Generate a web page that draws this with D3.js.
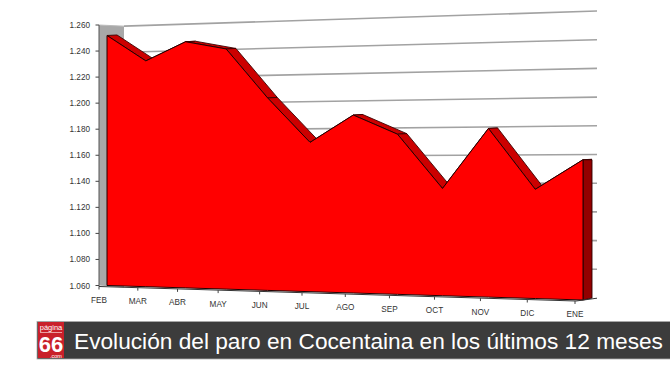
<!DOCTYPE html>
<html><head><meta charset="utf-8">
<script src="https://cdnjs.cloudflare.com/ajax/libs/d3/7.8.5/d3.min.js"></script>
<style>html,body{margin:0;padding:0;background:#fff}svg{display:block}text{font-family:"Liberation Sans",Arial,sans-serif}</style>
</head><body><svg id="c" width="670" height="377"></svg>
<script>
const categories=["FEB","MAR","ABR","MAY","JUN","JUL","AGO","SEP","OCT","NOV","DIC","ENE"];
const values=[1252,1232,1246,1240,1203,1170,1190,1176,1137,1180,1137,1158];
const yTicks=[1060,1080,1100,1120,1140,1160,1180,1200,1220,1240,1260];
const yTickLabels=["1.060","1.080","1.100","1.120","1.140","1.160","1.180","1.200","1.220","1.240","1.260"];
const title="Evolución del paro en Cocentaina en los últimos 12 meses";

const svg=d3.select("#c");
// Perspective of the pseudo-3D chart: month step widens to the right
const persp=i=>i*(1+0.0116*i);
const xFront=d3.scaleLinear().domain([persp(0),persp(11)]).range([107,583]);
const baseFront=d3.scaleLinear().domain([107,583]).range([285.5,300]);
const kFront=d3.scaleLinear().domain([99,597]).range([1.30,1.435]);
const yFront=(v,x)=>baseFront(x)-(v-1060)*kFront(x);
const baseBack=d3.scaleLinear().domain([124,597]).range([287.5,298]);
const yBack=(v,x)=>baseBack(x)-(v-1060)*kFront(x);
const yLeft=d3.scaleLinear().domain([1060,1260]).range([285.5,25]);
const depth=d3.scaleLinear().domain([107,583]).range([10,9]);

const pts=values.map((v,i)=>{const x=xFront(persp(i));return {x,y:yFront(v,x),b:baseFront(x),d:depth(x)};});

// side wall
svg.append("polygon").attr("fill","#a8a8a8")
 .attr("points",[[99,yLeft(1260)],[124,yBack(1260,124)],[124,yBack(1060,124)],[99,yLeft(1060)]].join(" "));
// gridlines on back wall
svg.append("g").selectAll("line").data(yTicks.slice(1)).join("line")
 .attr("x1",124).attr("x2",597)
 .attr("y1",d=>yBack(d,124)).attr("y2",d=>yBack(d,597))
 .attr("stroke","#a2a2a2").attr("stroke-width",1.6);
svg.append("line").attr("x1",99).attr("x2",124).attr("y1",yLeft(1260)).attr("y2",yBack(1260,124)).attr("stroke","#bbb");

// ribbons (top of the area, going back)
svg.append("g").selectAll("polygon").data(d3.pairs(pts)).join("polygon")
 .attr("points",([a,b])=>[[a.x,a.y],[b.x,b.y],[b.x+b.d,b.y-0.5],[a.x+a.d,a.y-0.5]].join(" "))
 .attr("fill","#cc0000").attr("stroke","#3a0000").attr("stroke-width",0.9).attr("stroke-linejoin","round");
// end face
const last=pts[pts.length-1];
svg.append("polygon")
 .attr("points",[[last.x,last.y],[last.x+last.d,last.y],[last.x+last.d,last.b-2],[last.x,last.b]].join(" "))
 .attr("fill","#930000").attr("stroke","#2a0000").attr("stroke-width",0.9);
// front face
const area=d3.area().x(d=>d.x).y0(d=>d.b).y1(d=>d.y);
svg.append("path").attr("d",area(pts)).attr("fill","#ff0000").attr("stroke","#220000").attr("stroke-width",1).attr("stroke-linejoin","round");

// left axis
svg.append("line").attr("x1",99).attr("x2",99).attr("y1",yLeft(1260)).attr("y2",yLeft(1060)+1).attr("stroke","#555").attr("stroke-width",1);
const gy=svg.append("g").selectAll("g").data(yTicks).join("g");
gy.append("line").attr("x1",95.5).attr("x2",99).attr("y1",d=>yLeft(d)).attr("y2",d=>yLeft(d)).attr("stroke","#444");
gy.append("text").text((d,i)=>yTickLabels[i]).attr("x",90).attr("y",d=>yLeft(d)+3)
 .attr("text-anchor","end").attr("font-size",8.2).attr("fill","#333");

// bottom axis
const axisX=x=>x-8;
const axisY=d3.scaleLinear().domain([99,576]).range([286.5,301]);
svg.append("line").attr("x1",99).attr("x2",576).attr("y1",axisY(99)).attr("y2",axisY(576)).attr("stroke","#333").attr("stroke-width",1);
svg.append("line").attr("x1",576).attr("x2",597).attr("y1",axisY(576)).attr("y2",298.2).attr("stroke","#333").attr("stroke-width",1);
const gx=svg.append("g").selectAll("g").data(pts).join("g");
gx.append("line").attr("x1",d=>axisX(d.x)).attr("x2",d=>axisX(d.x))
 .attr("y1",d=>axisY(axisX(d.x))).attr("y2",d=>axisY(axisX(d.x))+3).attr("stroke","#444");
gx.append("text").text((d,i)=>categories[i]).attr("x",d=>axisX(d.x)).attr("y",d=>axisY(axisX(d.x))+16.5)
 .attr("text-anchor","middle").attr("font-size",8.2).attr("fill","#333");

// banner
svg.append("rect").attr("x",37).attr("y",321.5).attr("width",640).attr("height",37.5).attr("fill","#3c3c3c").attr("stroke","#aaa").attr("stroke-width",0.8);
svg.append("rect").attr("x",38).attr("y",322).attr("width",26).attr("height",36).attr("fill","#c9202a");
const logo=svg.append("g").attr("fill","#fff").attr("text-anchor","middle");
logo.append("text").text("página").attr("x",51).attr("y",329.5).attr("font-size",7.5);
svg.append("line").attr("x1",40).attr("x2",62).attr("y1",332.5).attr("y2",332.5).attr("stroke","#f3c0c0").attr("stroke-width",0.8);
logo.append("text").text("66").attr("x",51).attr("y",351.5).attr("font-size",22).attr("font-weight",700);
logo.append("text").text(".com").attr("x",56).attr("y",357.5).attr("font-size",5.5);
svg.append("text").text(title).attr("x",74).attr("y",349).attr("font-size",22.7).attr("fill","#fff");
</script></body></html>
